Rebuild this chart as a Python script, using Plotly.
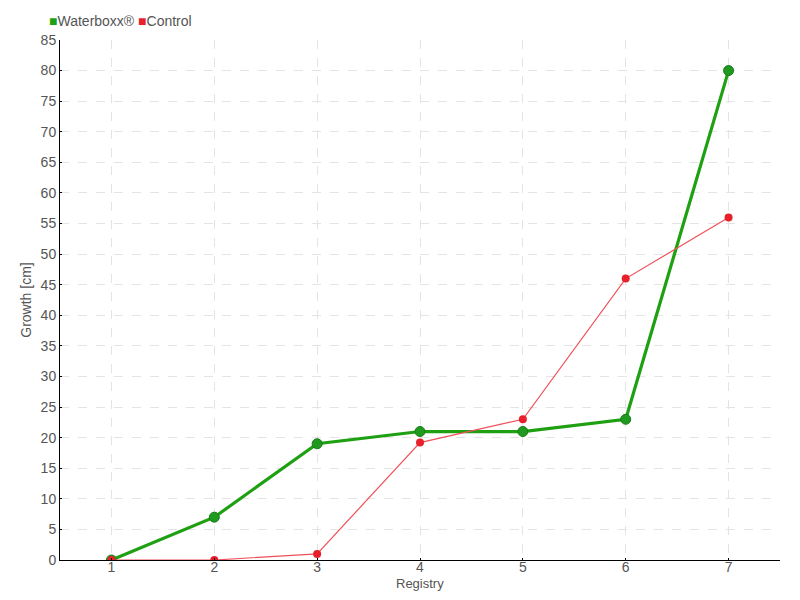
import plotly.graph_objects as go

registry = [1, 2, 3, 4, 5, 6, 7]
waterboxx = [0, 7, 19, 21, 21, 23, 80]
control = [0, 0, 1, 19.2, 23, 46, 56]
y_ticks = list(range(0, 90, 5))
series_names = ["Waterboxx®", "Control"]
series_colors = ["#1fa012", "#e8202c"]

FONT = "Liberation Sans Narrow, Liberation Sans, sans-serif"

fig = go.Figure()
fig.add_trace(go.Scatter(
    x=registry, y=waterboxx, name=series_names[0], mode="lines+markers",
    line=dict(color="#1fa012", width=3.2),
    marker=dict(size=10, color="#1f9a1f", line=dict(color="#187a18", width=1)),
    showlegend=False,
))
fig.add_trace(go.Scatter(
    x=registry, y=control, name=series_names[1], mode="lines+markers",
    line=dict(color="#f0505a", width=1.2),
    marker=dict(size=8, color="#e8202c"),
    showlegend=False,
))

legend_text = " ".join(
    f'<span style="color:{c}">■</span>{n}' for n, c in zip(series_names, series_colors)
)
fig.add_annotation(
    text=legend_text, xref="paper", yref="paper", x=-0.018, y=1.036,
    xanchor="left", yanchor="middle", showarrow=False,
    font=dict(family=FONT, size=14, color="#555555"),
)
fig.add_annotation(
    text="Registry", xref="paper", yref="paper", x=0.5, y=-0.045,
    xanchor="center", yanchor="middle", showarrow=False,
    font=dict(family=FONT, size=13, color="#555555"),
)

fig.update_layout(
    width=800, height=600,
    margin=dict(l=52, r=28, t=32, b=48, autoexpand=False),
    paper_bgcolor="white", plot_bgcolor="white",
    font=dict(family=FONT, size=14, color="#555555"),
    showlegend=False,
    xaxis=dict(
        range=[0.5, 7.5], tickvals=registry, ticks="inside", ticklen=2,
        tickcolor="#000", showline=True, linecolor="#000", linewidth=1,
        showgrid=True, gridcolor="#e4e4e4", griddash="dash", zeroline=False,
        automargin=False, ticklabelstandoff=-6,
    ),
    yaxis=dict(
        range=[0, 85], tickvals=y_ticks, ticks="inside", ticklen=2,
        tickcolor="#000", showline=True, linecolor="#000", linewidth=1,
        showgrid=True, gridcolor="#e4e4e4", griddash="dash", zeroline=False,
        automargin=False,
        title=dict(text="Growth [cm]", standoff=5, font=dict(size=14, color="#555555")),
    ),
)

fig.write_html("out.html")
